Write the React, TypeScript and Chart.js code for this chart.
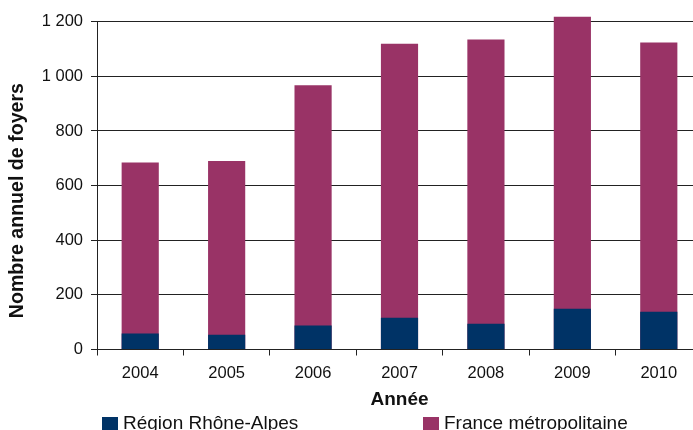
import React, { useEffect, useRef } from "react";
import { Chart, registerables } from "chart.js";

Chart.register(...registerables);

const years = ["2004", "2005", "2006", "2007", "2008", "2009", "2010"];
const regionValues = [59, 54, 88, 116, 94, 149, 138];
const franceValues = [685, 690, 967, 1119, 1135, 1218, 1124];
const seriesLabels = ["Région Rhône-Alpes", "France métropolitaine"];
const seriesColors = ["#003366", "#993366"];
const yTitle = "Nombre annuel de foyers";
const xTitle = "Année";

const FONT = "'Liberation Sans', Arial, Helvetica, sans-serif";

const fmt = (v: number) => {
  const s = String(Math.round(v));
  return s.replace(/\B(?=(\d{3})+(?!\d))/g, " ");
};

const legendPlugin = {
  id: "customLegend",
  afterDraw(chart: any) {
    const ctx = chart.ctx;
    const area = chart.chartArea;
    const left = area.left;
    const H = chart.height;
    const offsets = [5, 326];
    ctx.save();
    ctx.font = `19px ${FONT}`;
    ctx.textBaseline = "alphabetic";
    ctx.textAlign = "left";
    chart.data.datasets.forEach((ds: any, i: number) => {
      const x = left + offsets[i];
      ctx.fillStyle = ds.backgroundColor;
      ctx.fillRect(x, H - 13, 16, 16);
      ctx.fillStyle = "#111";
      ctx.fillText(ds.label, x + 21, H - 1.5);
    });
    // y-axis title
    ctx.translate(18, (area.top + area.bottom) / 2 + 15);
    ctx.rotate(-Math.PI / 2);
    ctx.font = `bold 19.6px ${FONT}`;
    ctx.textAlign = "center";
    ctx.textBaseline = "middle";
    ctx.fillStyle = "#111";
    ctx.fillText(yTitle, 0, 0);
    ctx.restore();
  },
};

export default function App() {
  const ref = useRef<HTMLCanvasElement | null>(null);
  useEffect(() => {
    if (!ref.current) return;
    const chart = new Chart(ref.current, {
      type: "bar",
      data: {
        labels: years,
        datasets: [
          {
            label: seriesLabels[0],
            data: regionValues,
            backgroundColor: seriesColors[0],
            borderWidth: 0,
            clip: false as any,
          },
          {
            label: seriesLabels[1],
            data: franceValues,
            backgroundColor: seriesColors[1],
            borderWidth: 0,
            clip: false as any,
          },
        ],
      },
      options: {
        animation: false,
        responsive: false,
        maintainAspectRatio: false,
        datasets: { bar: { categoryPercentage: 1, barPercentage: 0.43 } },
        layout: { padding: { top: 21.7, left: 6, right: 3, bottom: 18.5 } },
        plugins: {
          legend: { display: false },
          tooltip: { enabled: false },
        },
        scales: {
          x: {
            stacked: true,
            offset: true,
            afterFit: (scale: any) => {
              scale.height = 62;
            },
            grid: {
              offset: true,
              drawOnChartArea: false,
              drawTicks: true,
              tickLength: 6,
              color: "#222",
            },
            border: { color: "#222", width: 1 },
            ticks: {
              color: "#111",
              font: { family: FONT, size: 16.5 },
              padding: 8.5,
              maxRotation: 0,
            },
            title: {
              display: true,
              text: xTitle,
              color: "#111",
              font: { family: FONT, size: 19, weight: "bold" },
              padding: { top: 5, bottom: 0 },
            },
          },
          y: {
            stacked: false,
            min: 0,
            max: 1200,
            afterFit: (scale: any) => {
              scale.width = 91;
            },
            grid: {
              color: "#222",
              lineWidth: 1,
              tickLength: 6,
              drawTicks: true,
            },
            border: { color: "#222", width: 1 },
            ticks: {
              stepSize: 200,
              color: "#111",
              font: { family: FONT, size: 16.5 },
              padding: 8,
              callback: (v: any) => fmt(Number(v)),
            },
            title: { display: false },
          },
        },
      },
      plugins: [legendPlugin],
    });
    return () => chart.destroy();
  }, []);

  return (
    <div
      style={{
        position: "absolute",
        left: 0,
        top: 0,
        width: 693,
        height: 430,
        overflow: "hidden",
        background: "#fff",
      }}
    >
      <canvas ref={ref} width={705} height={430} style={{ display: "block" }} />
    </div>
  );
}
